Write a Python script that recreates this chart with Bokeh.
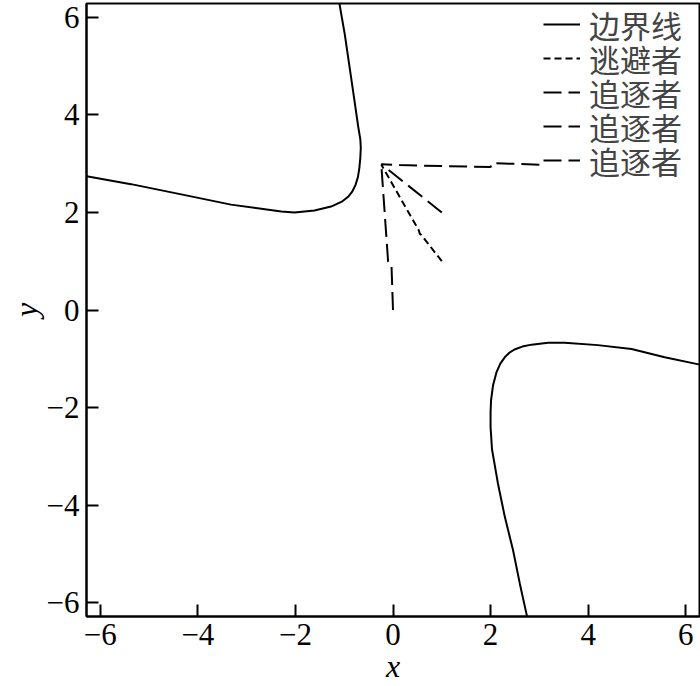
from bokeh.plotting import figure
from bokeh.models import Range1d, FixedTicker, Legend, LegendItem
from bokeh.embed import file_html
from bokeh.resources import INLINE

# Boundary curve, upper-left branch
bound_ul_x = [-6.28, -5.37, -4.34, -3.32, -2.29, -2.02, -1.61, -1.27, -1.05, -0.92, -0.84,
              -0.77, -0.72, -0.69, -0.67, -0.66, -0.67, -0.71, -0.79, -0.89, -0.99, -1.10]
bound_ul_y = [2.74, 2.58, 2.37, 2.16, 2.02, 2.00, 2.04, 2.12, 2.22, 2.32, 2.42,
              2.56, 2.72, 2.91, 3.12, 3.33, 3.50, 3.74, 4.29, 4.98, 5.66, 6.29]

# Boundary curve, lower-right branch
bound_lr_x = [6.29, 5.57, 4.89, 4.20, 3.52, 3.18, 2.84, 2.65, 2.49, 2.38, 2.29, 2.20, 2.12,
              2.05, 2.01, 2.00, 2.00, 2.03, 2.15, 2.29, 2.46, 2.60, 2.75]
bound_lr_y = [-1.12, -0.97, -0.80, -0.72, -0.67, -0.67, -0.71, -0.75, -0.81, -0.88, -0.97, -1.10, -1.28,
              -1.55, -1.85, -2.10, -2.40, -2.86, -3.55, -4.23, -4.92, -5.61, -6.29]

# Evader trajectory
evader_x = [1.00, 0.58, 0.55, 0.53, -0.24]
evader_y = [1.00, 1.54, 1.56, 1.63, 2.98]

# Pursuer trajectories
pursuer1_x = [1.00, -0.24]
pursuer1_y = [2.00, 2.99]
pursuer2_x = [0.00, -0.03, -0.06, -0.10, -0.24]
pursuer2_y = [0.00, 0.89, 0.89, 0.99, 2.98]
pursuer3_x = [3.00, 2.03, 2.00, 1.00, 0.13, -0.24]
pursuer3_y = [2.98, 3.01, 2.93, 2.95, 2.97, 2.99]

ticks = [-6, -4, -2, 0, 2, 4, 6]
tick_labels = ["\u22126", "\u22124", "\u22122", "0", "2", "4", "6"]
legend_labels = ["边界线", "逃避者", "追逐者", "追逐者", "追逐者"]

SERIF = "Liberation Serif"

p = figure(width=700, height=686, output_backend="svg", toolbar_location=None,
           x_range=Range1d(-6.283, 6.283), y_range=Range1d(-6.283, 6.283),
           min_border_left=86, min_border_right=1, min_border_top=3, min_border_bottom=70)
p.grid.visible = False
p.outline_line_color = "black"
p.outline_line_width = 2
p.outline_line_alpha = 1

r_b1 = p.line(bound_ul_x, bound_ul_y, line_color="black", line_width=2)
r_b2 = p.line(bound_lr_x, bound_lr_y, line_color="black", line_width=2)
r_e = p.line(evader_x, evader_y, line_color="black", line_width=2, line_dash="7 4")
r_p1 = p.line(pursuer1_x, pursuer1_y, line_color="black", line_width=2, line_dash="18 7")
r_p2 = p.line(pursuer2_x, pursuer2_y, line_color="black", line_width=2, line_dash="18 7")
r_p3 = p.line(pursuer3_x, pursuer3_y, line_color="black", line_width=2, line_dash="18 7")

overrides = {t: lab for t, lab in zip(ticks, tick_labels)}
for ax in (p.xaxis[0], p.yaxis[0]):
    ax.ticker = FixedTicker(ticks=ticks)
    ax.major_label_overrides = overrides
    ax.major_tick_in = 12
    ax.major_tick_out = 0
    ax.minor_tick_in = 0
    ax.minor_tick_out = 0
    ax.major_tick_line_width = 2
    ax.axis_line_width = 2
    ax.major_label_text_font = SERIF
    ax.major_label_text_font_size = "31px"
    ax.major_label_text_color = "black"
    ax.major_label_standoff = 7
    ax.axis_label_text_font = SERIF
    ax.axis_label_text_font_style = "italic"
    ax.axis_label_text_font_size = "32px"
    ax.axis_label_text_color = "black"
    ax.axis_label_standoff = 0
p.xaxis.axis_label = "x"
p.yaxis.axis_label = "y"

# One single-item legend per row so rows can sit as close as in the reference
renderers = [r_b1, r_e, r_p1, r_p2, r_p3]
row_bottoms = [567, 533, 499, 465, 431]
for lab, r, yb in zip(legend_labels, renderers, row_bottoms):
    lg = Legend(items=[LegendItem(label=lab, renderers=[r])], location=(457, yb),
                border_line_color=None, background_fill_alpha=0,
                label_text_font="Liberation Serif, Noto Sans CJK SC", label_text_font_size="31px",
                glyph_width=37, glyph_height=50, label_height=50,
                spacing=0, padding=0, margin=0, label_standoff=9)
    p.add_layout(lg)

open("out.html", "w").write(file_html(p, INLINE))
